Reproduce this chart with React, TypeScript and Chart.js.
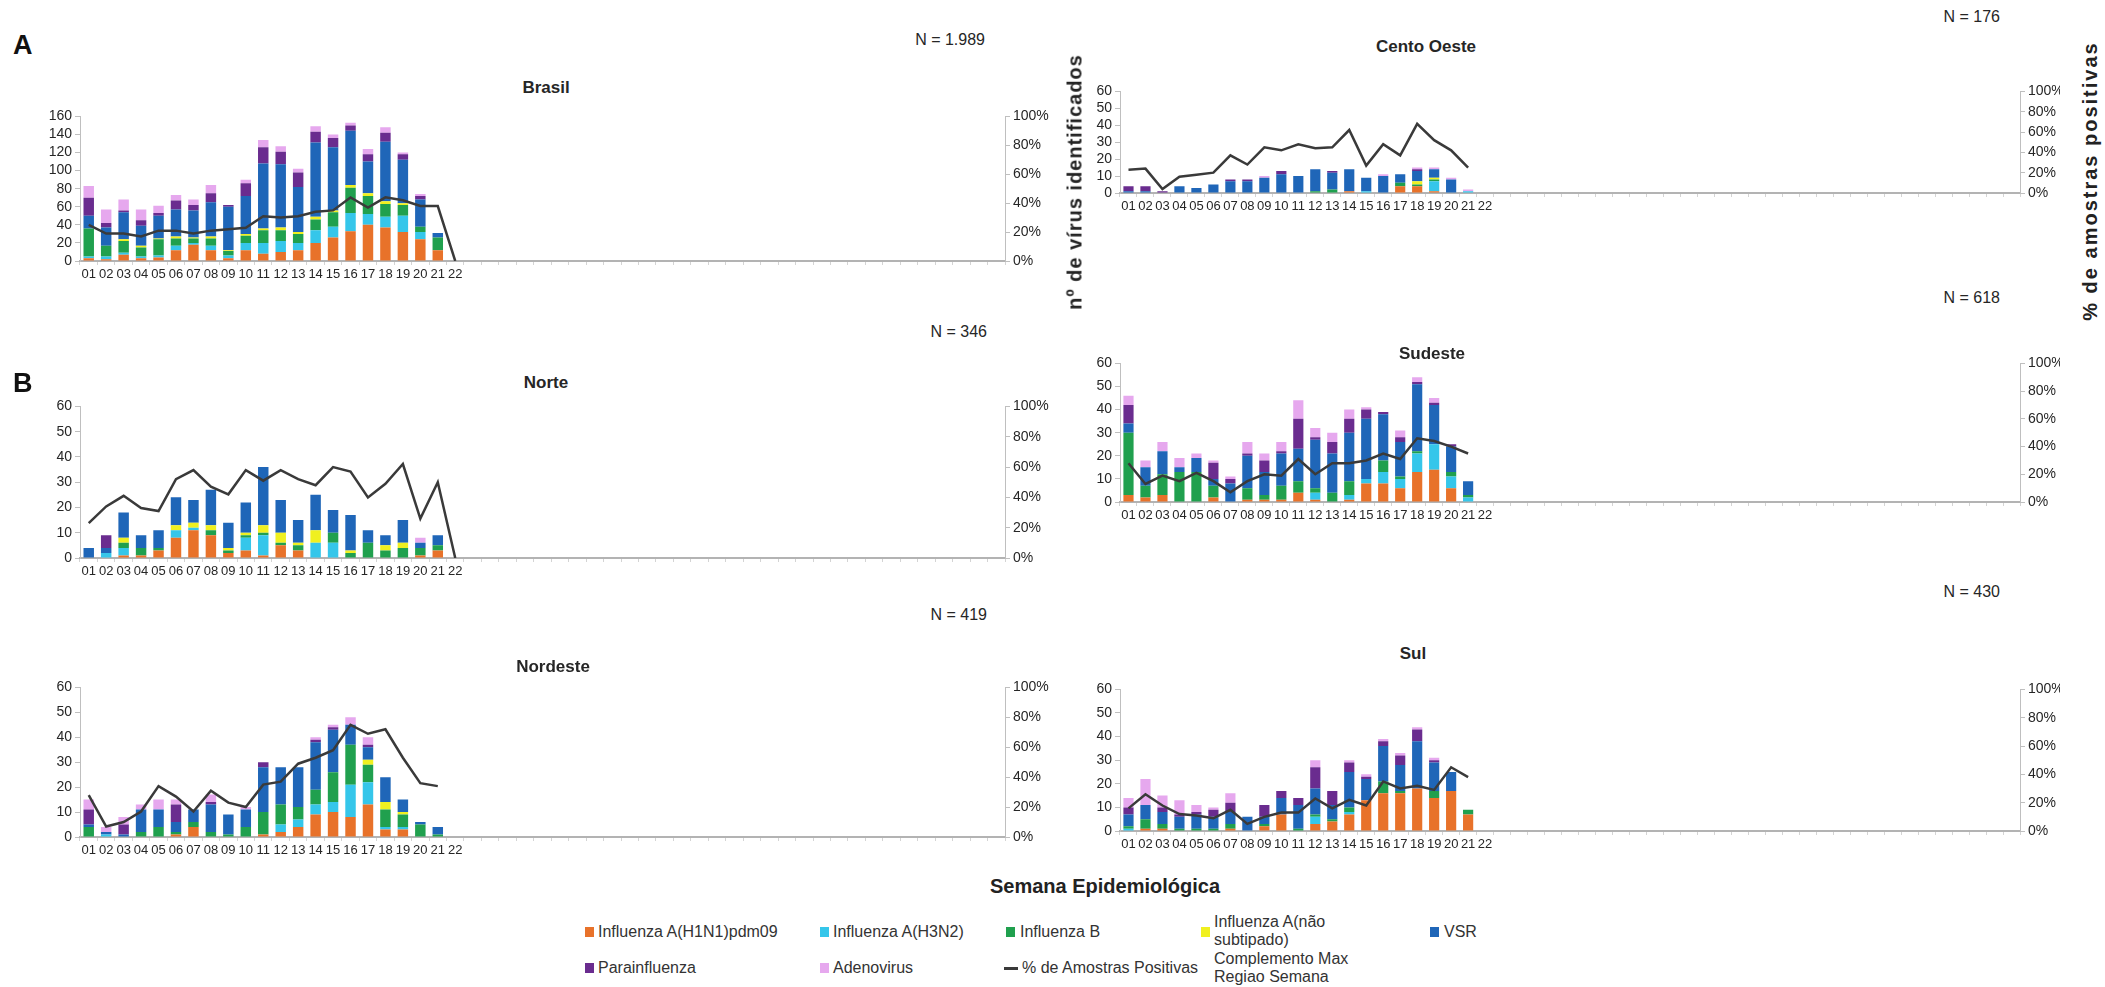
import React, { useEffect, useRef } from 'react';
import { Chart, registerables } from 'chart.js';

Chart.register(...registerables);

// ---------------- data ----------------
const TOTAL_WEEKS = 53;
const WEEK_TICKS = ['01', '02', '03', '04', '05', '06', '07', '08', '09', '10', '11', '12', '13', '14', '15', '16', '17', '18', '19', '20', '21', '22'];

const SERIES_NAMES = [
  'Influenza A(H1N1)pdm09',
  'Influenza A(H3N2)',
  'Influenza B',
  'Influenza A(não subtipado)',
  'VSR',
  'Parainfluenza',
  'Adenovirus',
];
const SERIES_COLORS = ['#e8722a', '#35c6ea', '#20a04e', '#f0f020', '#1f66b8', '#6a2c8f', '#e6a8ee'];
const LINE_NAME = '% de Amostras Positivas';

// Brasil
const BRASIL_H1N1 = [3, 2, 7, 3, 4, 12, 18, 12, 3, 12, 8, 10, 12, 20, 26, 33, 40, 37, 32, 24, 12];
const BRASIL_H3N2 = [2, 3, 2, 2, 2, 5, 2, 5, 3, 8, 12, 12, 8, 14, 12, 20, 12, 12, 18, 8, 0];
const BRASIL_B = [31, 12, 13, 10, 18, 8, 5, 8, 5, 8, 14, 12, 10, 12, 16, 28, 20, 14, 12, 6, 14];
const BRASIL_NS = [0, 0, 2, 2, 1, 2, 1, 2, 1, 2, 2, 3, 2, 3, 2, 3, 3, 3, 2, 0, 0];
const BRASIL_VSR = [14, 20, 30, 22, 25, 30, 30, 38, 48, 42, 72, 70, 50, 82, 70, 60, 35, 66, 48, 30, 5];
const BRASIL_PARA = [20, 5, 2, 6, 3, 10, 6, 10, 2, 14, 18, 14, 16, 12, 10, 6, 8, 10, 6, 4, 0];
const BRASIL_ADENO = [13, 15, 12, 12, 8, 6, 6, 9, 0, 4, 8, 6, 4, 6, 4, 3, 6, 6, 2, 2, 0];
const BRASIL_PCT = [25, 19, 19, 17, 21, 21, 19, 21, 22, 23, 31, 30, 31, 34, 35, 44, 37, 44, 42, 38, 38, 0];

// Centro Oeste
const CO_H1N1 = [0, 0, 0, 0, 0, 0, 0, 0, 0, 0, 0, 0, 0, 1, 0, 0, 4, 4, 1, 0, 0];
const CO_H3N2 = [0, 0, 0, 0, 0, 0, 0, 0, 0, 0, 0, 0, 0, 0, 1, 0, 0, 0, 6, 0, 1];
const CO_B = [0, 0, 0, 0, 0, 0, 0, 0, 0, 0, 0, 1, 2, 0, 0, 0, 2, 1, 1, 0, 0];
const CO_NS = [0, 0, 0, 0, 0, 0, 0, 0, 0, 0, 0, 0, 0, 0, 0, 0, 0, 2, 1, 0, 0];
const CO_VSR = [1, 1, 0, 4, 3, 5, 7, 7, 9, 11, 10, 13, 10, 13, 8, 10, 5, 6, 5, 8, 0];
const CO_PARA = [3, 3, 1, 0, 0, 0, 1, 1, 0, 2, 0, 0, 1, 0, 0, 0, 0, 1, 0, 0, 0];
const CO_ADENO = [0, 0, 0, 0, 0, 0, 0, 0, 1, 0, 0, 0, 0, 0, 0, 1, 0, 1, 1, 1, 1];
const CO_PCT = [23, 24, 4, 16, 18, 20, 37, 28, 45, 42, 48, 44, 45, 62, 27, 48, 37, 68, 52, 42, 25];

// Norte
const NORTE_H1N1 = [0, 0, 1, 1, 3, 8, 11, 9, 2, 3, 1, 5, 3, 0, 0, 0, 0, 0, 0, 1, 3];
const NORTE_H3N2 = [0, 2, 3, 0, 0, 3, 1, 0, 0, 5, 8, 0, 0, 6, 6, 0, 0, 0, 0, 0, 0];
const NORTE_B = [0, 0, 2, 3, 1, 0, 0, 2, 1, 1, 1, 1, 2, 0, 4, 2, 6, 3, 4, 3, 2];
const NORTE_NS = [0, 0, 2, 0, 0, 2, 2, 2, 1, 1, 3, 4, 1, 5, 0, 1, 0, 2, 2, 0, 0];
const NORTE_VSR = [4, 2, 10, 5, 7, 11, 9, 14, 10, 12, 23, 13, 9, 14, 9, 14, 5, 4, 9, 2, 4];
const NORTE_PARA = [0, 5, 0, 0, 0, 0, 0, 0, 0, 0, 0, 0, 0, 0, 0, 0, 0, 0, 0, 0, 0];
const NORTE_ADENO = [0, 0, 0, 0, 0, 0, 0, 0, 0, 0, 0, 0, 0, 0, 0, 0, 0, 0, 0, 2, 0];
const NORTE_PCT = [23, 34, 41, 33, 31, 52, 58, 47, 42, 58, 51, 58, 52, 48, 60, 57, 40, 49, 62, 26, 50, 0];

// Sudeste
const SE_H1N1 = [3, 2, 3, 0, 0, 2, 0, 1, 1, 1, 4, 1, 0, 1, 8, 8, 6, 13, 14, 6, 0];
const SE_H3N2 = [0, 0, 0, 0, 0, 0, 0, 0, 0, 0, 0, 3, 0, 2, 2, 5, 4, 8, 11, 5, 2];
const SE_B = [27, 5, 9, 13, 13, 5, 0, 5, 2, 6, 5, 2, 4, 6, 0, 5, 1, 1, 0, 2, 1];
const SE_NS = [0, 0, 0, 0, 0, 0, 0, 0, 0, 0, 0, 0, 0, 0, 0, 0, 0, 0, 0, 0, 0];
const SE_VSR = [4, 8, 10, 2, 6, 3, 8, 14, 10, 14, 14, 21, 17, 21, 26, 20, 15, 29, 17, 11, 6];
const SE_PARA = [8, 0, 0, 0, 0, 7, 2, 1, 5, 1, 13, 1, 5, 6, 4, 1, 2, 1, 1, 1, 0];
const SE_ADENO = [4, 3, 4, 4, 2, 1, 1, 5, 3, 4, 8, 4, 4, 4, 1, 0, 3, 2, 2, 0, 0];
const SE_PCT = [28, 13, 19, 15, 21, 15, 7, 15, 20, 19, 31, 20, 28, 28, 30, 35, 31, 46, 44, 40, 35];

// Nordeste
const NE_H1N1 = [0, 0, 0, 0, 0, 1, 4, 0, 0, 0, 1, 2, 4, 9, 10, 8, 13, 3, 3, 0, 0];
const NE_H3N2 = [0, 1, 0, 0, 0, 0, 0, 0, 0, 0, 0, 3, 3, 4, 4, 13, 9, 1, 1, 0, 0];
const NE_B = [4, 0, 0, 2, 4, 1, 2, 2, 1, 4, 9, 8, 5, 6, 12, 16, 7, 7, 5, 5, 1];
const NE_NS = [0, 0, 0, 0, 0, 0, 0, 0, 0, 0, 0, 0, 0, 0, 0, 0, 2, 3, 1, 0, 0];
const NE_VSR = [1, 1, 1, 9, 7, 4, 5, 11, 8, 7, 18, 15, 16, 19, 17, 8, 5, 10, 5, 1, 3];
const NE_PARA = [6, 0, 4, 0, 0, 7, 0, 1, 0, 0, 2, 0, 0, 1, 1, 0, 1, 0, 0, 0, 0];
const NE_ADENO = [4, 2, 3, 2, 4, 2, 0, 3, 0, 1, 0, 0, 0, 1, 1, 3, 3, 0, 0, 0, 0];
const NE_PCT = [28, 7, 10, 17, 34, 27, 17, 31, 23, 20, 35, 37, 49, 53, 58, 75, 69, 72, 53, 36, 34];

// Sul
const SUL_H1N1 = [0, 1, 1, 0, 0, 0, 1, 0, 2, 7, 0, 3, 4, 7, 13, 16, 16, 18, 14, 17, 7];
const SUL_H3N2 = [1, 0, 0, 0, 0, 0, 0, 0, 0, 0, 0, 3, 0, 1, 0, 0, 0, 0, 0, 0, 0];
const SUL_B = [1, 4, 2, 1, 1, 1, 2, 0, 1, 0, 1, 1, 1, 2, 0, 5, 1, 0, 3, 0, 2];
const SUL_NS = [0, 0, 0, 0, 0, 0, 0, 0, 0, 0, 0, 0, 0, 0, 0, 0, 0, 0, 0, 0, 0];
const SUL_VSR = [5, 6, 5, 5, 6, 5, 5, 6, 3, 7, 10, 11, 6, 15, 9, 15, 11, 20, 12, 8, 0];
const SUL_PARA = [3, 0, 2, 1, 1, 3, 4, 0, 5, 3, 3, 9, 6, 4, 1, 2, 4, 5, 1, 0, 0];
const SUL_ADENO = [4, 11, 5, 6, 3, 1, 4, 0, 0, 0, 0, 3, 0, 1, 1, 1, 1, 1, 1, 0, 0];
const SUL_PCT = [16, 26, 18, 12, 11, 9, 15, 5, 10, 13, 13, 23, 16, 22, 18, 35, 30, 32, 29, 45, 38];

// ---------------- layout ----------------
const FONT = '"Liberation Sans Narrow", "Liberation Sans", Arial, sans-serif';
const TEXT = '#262626';

type PanelDef = {
  title: string;
  n: string;
  series: number[][];
  pct: number[];
  yMax: number;
  step: number;
  L: number; R: number; T: number; B: number;
  canvasLeft: number; canvasRight: number;
  titleX: number; titleY: number; nRight: number; nY: number;
};

const PANELS: PanelDef[] = [
  { title: 'Brasil', n: 'N = 1.989', series: [BRASIL_H1N1, BRASIL_H3N2, BRASIL_B, BRASIL_NS, BRASIL_VSR, BRASIL_PARA, BRASIL_ADENO], pct: BRASIL_PCT, yMax: 160, step: 20,
    L: 80, R: 1005, T: 115, B: 261, canvasLeft: 0, canvasRight: 1060, titleX: 546, titleY: 88, nRight: 985, nY: 40 },
  { title: 'Cento Oeste', n: 'N = 176', series: [CO_H1N1, CO_H3N2, CO_B, CO_NS, CO_VSR, CO_PARA, CO_ADENO], pct: CO_PCT, yMax: 60, step: 10,
    L: 1120, R: 2020, T: 90, B: 193, canvasLeft: 1080, canvasRight: 2060, titleX: 1426, titleY: 47, nRight: 2000, nY: 17 },
  { title: 'Norte', n: 'N = 346', series: [NORTE_H1N1, NORTE_H3N2, NORTE_B, NORTE_NS, NORTE_VSR, NORTE_PARA, NORTE_ADENO], pct: NORTE_PCT, yMax: 60, step: 10,
    L: 80, R: 1005, T: 405, B: 558, canvasLeft: 0, canvasRight: 1060, titleX: 546, titleY: 383, nRight: 987, nY: 332 },
  { title: 'Sudeste', n: 'N = 618', series: [SE_H1N1, SE_H3N2, SE_B, SE_NS, SE_VSR, SE_PARA, SE_ADENO], pct: SE_PCT, yMax: 60, step: 10,
    L: 1120, R: 2020, T: 362, B: 502, canvasLeft: 1080, canvasRight: 2060, titleX: 1432, titleY: 354, nRight: 2000, nY: 298 },
  { title: 'Nordeste', n: 'N = 419', series: [NE_H1N1, NE_H3N2, NE_B, NE_NS, NE_VSR, NE_PARA, NE_ADENO], pct: NE_PCT, yMax: 60, step: 10,
    L: 80, R: 1005, T: 686, B: 837, canvasLeft: 0, canvasRight: 1060, titleX: 553, titleY: 667, nRight: 987, nY: 615 },
  { title: 'Sul', n: 'N = 430', series: [SUL_H1N1, SUL_H3N2, SUL_B, SUL_NS, SUL_VSR, SUL_PARA, SUL_ADENO], pct: SUL_PCT, yMax: 60, step: 10,
    L: 1120, R: 2020, T: 688, B: 831, canvasLeft: 1080, canvasRight: 2060, titleX: 1413, titleY: 654, nRight: 2000, nY: 592 },
];

const TOP_PAD = 10;
const X_AXIS_H = 26;

function Panel({ p }: { p: PanelDef }) {
  const ref = useRef<HTMLCanvasElement | null>(null);
  useEffect(() => {
    if (!ref.current) return;
    const labels = Array.from({ length: TOTAL_WEEKS }, (_, i) => (i < WEEK_TICKS.length ? WEEK_TICKS[i] : ''));
    const leftW = p.L - p.canvasLeft;
    const rightW = p.canvasRight - p.R;
    const barSets = p.series.map((d, i) => ({
      type: 'bar' as const,
      label: SERIES_NAMES[i],
      data: d,
      backgroundColor: SERIES_COLORS[i],
      borderWidth: 0,
      stack: 's',
      yAxisID: 'y',
      order: 1,
      barPercentage: 0.6,
      categoryPercentage: 1.0,
    }));
    const lineSet = {
      type: 'line' as const,
      label: LINE_NAME,
      data: p.pct,
      borderColor: '#3a3a3a',
      borderWidth: 2.5,
      pointRadius: 0,
      tension: 0,
      fill: false,
      yAxisID: 'y1',
      order: 0,
    };
    const tickFont = { family: FONT, size: 14 };
    const chart = new Chart(ref.current, {
      type: 'bar',
      data: { labels, datasets: [...barSets, lineSet] as any },
      options: {
        responsive: false,
        animation: false,
        layout: { padding: { top: TOP_PAD, left: 0, right: 0, bottom: 0 } },
        plugins: { legend: { display: false }, tooltip: { enabled: false }, title: { display: false } },
        scales: {
          x: {
            stacked: true,
            offset: true,
            grid: { display: true, drawOnChartArea: false, drawTicks: true, tickLength: 4, color: '#d4d4d4', offset: true },
            border: { display: true, color: '#b3b3b3', width: 2 },
            ticks: { autoSkip: false, maxRotation: 0, minRotation: 0, padding: 2, color: TEXT, font: { family: FONT, size: 13 } },
            afterFit: (s: any) => { s.height = X_AXIS_H; },
          },
          y: {
            stacked: true,
            position: 'left',
            min: 0,
            max: p.yMax,
            ticks: { stepSize: p.step, autoSkip: false, padding: 3, color: TEXT, font: tickFont },
            grid: { display: true, drawOnChartArea: false, drawTicks: true, tickLength: 5, color: '#bfbfbf' },
            border: { display: true, color: '#bfbfbf', width: 1 },
            afterFit: (s: any) => { s.width = leftW; },
          },
          y1: {
            position: 'right',
            min: 0,
            max: 100,
            ticks: { stepSize: 20, autoSkip: false, padding: 3, color: TEXT, font: tickFont, callback: (v: any) => v + '%' },
            grid: { display: true, drawOnChartArea: false, drawTicks: true, tickLength: 5, color: '#bfbfbf' },
            border: { display: true, color: '#bfbfbf', width: 1 },
            afterFit: (s: any) => { s.width = rightW; },
          },
        },
      } as any,
    });
    return () => chart.destroy();
  }, [p]);

  const w = p.canvasRight - p.canvasLeft;
  const h = TOP_PAD + (p.B - p.T) + X_AXIS_H;
  return (
    <>
      <canvas
        ref={ref}
        width={w}
        height={h}
        style={{ position: 'absolute', left: p.canvasLeft, top: p.T - TOP_PAD, width: w, height: h }}
      />
      <div style={{ position: 'absolute', left: p.titleX, top: p.titleY, transform: 'translate(-50%, -50%)', font: `bold 17px ${FONT}`, color: TEXT, whiteSpace: 'nowrap' }}>
        {p.title}
      </div>
      <div style={{ position: 'absolute', right: 2105 - p.nRight, top: p.nY, transform: 'translateY(-50%)', font: `16px ${FONT}`, color: TEXT, whiteSpace: 'nowrap' }}>
        {p.n}
      </div>
    </>
  );
}

const LEGEND_ROW1 = 932;
const LEGEND_ROW2 = 968;

function Swatch({ x, y, color }: { x: number; y: number; color: string }) {
  return <div style={{ position: 'absolute', left: x, top: y - 5, width: 9, height: 10, background: color }} />;
}
function LText({ x, y, children }: { x: number; y: number; children: React.ReactNode }) {
  return (
    <div style={{ position: 'absolute', left: x, top: y, transform: 'translateY(-50%)', font: `16px ${FONT}`, color: '#333', whiteSpace: 'nowrap', lineHeight: '18px' }}>
      {children}
    </div>
  );
}

export default function App() {
  return (
    <div style={{ position: 'absolute', left: 0, top: 0, width: 2105, height: 987, background: '#fff', overflow: 'hidden' }}>
      {PANELS.map((p) => (
        <Panel key={p.title} p={p} />
      ))}

      <div style={{ position: 'absolute', left: 13, top: 45, transform: 'translateY(-50%)', font: `bold 27px ${FONT}`, color: '#111' }}>A</div>
      <div style={{ position: 'absolute', left: 13, top: 383, transform: 'translateY(-50%)', font: `bold 27px ${FONT}`, color: '#111' }}>B</div>

      <div style={{ position: 'absolute', left: 1075, top: 182, transform: 'translate(-50%, -50%) rotate(-90deg)', font: 'bold 20px "Liberation Sans", Arial, sans-serif', letterSpacing: '1px', color: '#222', whiteSpace: 'nowrap' }}>
        nº de vírus identificados
      </div>
      <div style={{ position: 'absolute', left: 2090, top: 181, transform: 'translate(-50%, -50%) rotate(-90deg)', font: 'bold 20px "Liberation Sans", Arial, sans-serif', letterSpacing: '2px', color: '#222', whiteSpace: 'nowrap' }}>
        % de amostras positivas
      </div>

      <div style={{ position: 'absolute', left: 1105, top: 886, transform: 'translate(-50%, -50%)', font: `bold 20px ${FONT}`, color: '#222', whiteSpace: 'nowrap' }}>
        Semana Epidemiológica
      </div>

      <Swatch x={585} y={LEGEND_ROW1} color={SERIES_COLORS[0]} />
      <LText x={598} y={LEGEND_ROW1}>{SERIES_NAMES[0]}</LText>
      <Swatch x={820} y={LEGEND_ROW1} color={SERIES_COLORS[1]} />
      <LText x={833} y={LEGEND_ROW1}>{SERIES_NAMES[1]}</LText>
      <Swatch x={1006} y={LEGEND_ROW1} color={SERIES_COLORS[2]} />
      <LText x={1020} y={LEGEND_ROW1}>{SERIES_NAMES[2]}</LText>
      <Swatch x={1201} y={LEGEND_ROW1} color={SERIES_COLORS[3]} />
      <LText x={1214} y={LEGEND_ROW1 - 1}>
        Influenza A(não
        <br />
        subtipado)
      </LText>
      <Swatch x={1430} y={LEGEND_ROW1} color={SERIES_COLORS[4]} />
      <LText x={1444} y={LEGEND_ROW1}>{SERIES_NAMES[4]}</LText>

      <Swatch x={585} y={LEGEND_ROW2} color={SERIES_COLORS[5]} />
      <LText x={598} y={LEGEND_ROW2}>{SERIES_NAMES[5]}</LText>
      <Swatch x={820} y={LEGEND_ROW2} color={SERIES_COLORS[6]} />
      <LText x={833} y={LEGEND_ROW2}>{SERIES_NAMES[6]}</LText>
      <div style={{ position: 'absolute', left: 1004, top: LEGEND_ROW2 - 1.5, width: 14, height: 3, background: '#3a3a3a' }} />
      <LText x={1022} y={LEGEND_ROW2}>{LINE_NAME}</LText>
      <LText x={1214} y={LEGEND_ROW2}>
        Complemento Max
        <br />
        Regiao Semana
      </LText>
    </div>
  );
}
